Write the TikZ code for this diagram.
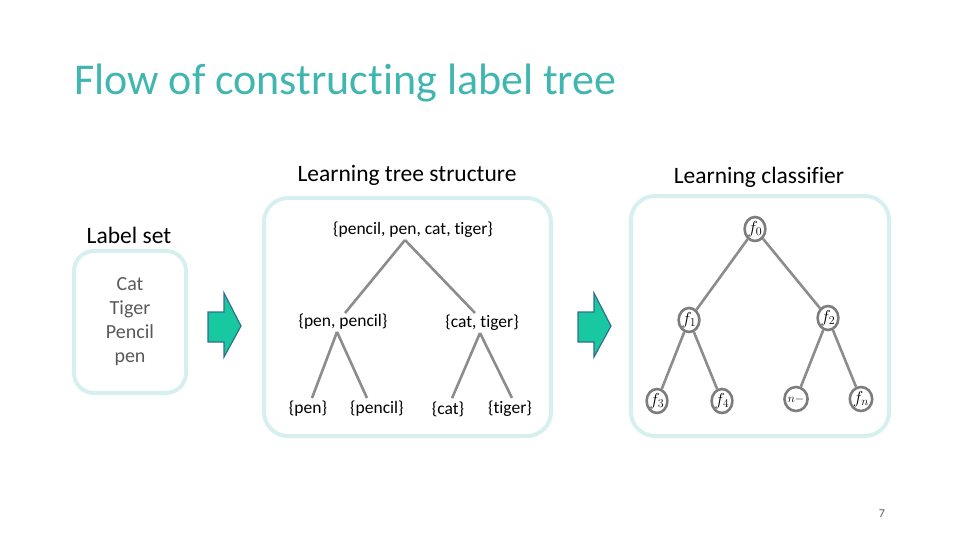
\documentclass[tikz,border=0pt]{standalone}
\usepackage{fontspec}
\setmainfont{Carlito}[Ligatures=NoCommon]
\usetikzlibrary{calc,shapes.geometric}
\definecolor{titlec}{RGB}{64,182,176}
\definecolor{boxc}{RGB}{214,240,240}
\definecolor{linec}{RGB}{140,140,140}
\definecolor{ellc}{RGB}{125,125,125}
\definecolor{bodyc}{RGB}{89,89,89}
\definecolor{arrfill}{RGB}{24,200,160}
\definecolor{arrdraw}{RGB}{50,110,140}
\tikzset{
  panel/.style={draw=boxc, line width=4pt, rounded corners=24pt},
  tlabel/.style={inner sep=1pt, font=\fontsize{17.5}{20}\selectfont},
  heading/.style={inner sep=0pt, font=\fontsize{23.5}{28}\selectfont},
  edge/.style={draw=linec, line width=2.6pt},
  clf/.style={ellipse, draw=ellc, line width=2.6pt, minimum width=17pt, minimum height=24pt, inner sep=0pt, font=\fontsize{18}{20}\selectfont},
  blockarrow/.style={fill=arrfill, draw=arrdraw, line width=1.2pt, line join=miter}
}
\begin{document}
\begin{tikzpicture}[x=1pt,y=-1pt]
\useasboundingbox (0,0) rectangle (960,540);
% title
\node[anchor=base west, inner sep=0pt, text=titlec, font=\fontsize{44}{48}\selectfont] (title) at (74,95) {Flow of constructing label tree};
% headings
\node[heading] (h1) at (407,175) {Learning tree structure};
\node[heading] (h2) at (759,177) {Learning classifier};
\node[heading] (h0) at (129,235) {Label set};
% label set panel
\draw[panel, rounded corners=20pt] (74,251) rectangle (186,393);
\node[align=center, text=bodyc, inner sep=0pt, font=\fontsize{20}{24}\selectfont] (labels) at (130,322) {Cat\\Tiger\\Pencil\\pen};
% arrows
\draw[blockarrow] (208,312) -- (224,312) -- (224,293) -- (241,326) -- (224,357) -- (224,342) -- (208,342) -- cycle;
\draw[blockarrow] (578,312) -- (594,312) -- (594,293) -- (611,326) -- (594,357) -- (594,342) -- (578,342) -- cycle;
% panels
\draw[panel] (264,198) rectangle (551,436);
\draw[panel] (631,196) rectangle (889,436);
% label tree
\node[tlabel] (root) at (413,230) {\{pencil, pen, cat, tiger\}};
\node[tlabel] (pp) at (343,322) {\{pen, pencil\}};
\node[tlabel] (ct) at (482,323) {\{cat, tiger\}};
\node[tlabel] (pen) at (308,409) {\{pen\}};
\node[tlabel] (pencil) at (377,409) {\{pencil\}};
\node[tlabel] (cat) at (448,409) {\{cat\}};
\node[tlabel] (tiger) at (510,409) {\{tiger\}};
\draw[edge] ($(root.south)+(-8,1)$) -- ($(pp.north)+(2,0)$);
\draw[edge] ($(root.south)+(-8,1)$) -- ($(ct.north)+(-7,-1)$);
\draw[edge] ($(pp.south)+(-6,1)$) -- ($(pen.north)+(4,-2)$);
\draw[edge] ($(pp.south)+(-6,1)$) -- ($(pencil.north)+(-10,-2)$);
\draw[edge] ($(ct.south)+(-2,1)$) -- ($(cat.north)+(4,-2)$);
\draw[edge] ($(ct.south)+(-2,1)$) -- ($(tiger.north)+(2,-2)$);
% classifier tree
\node[clf] (f0) at (755,229) {$f_0$};
\node[clf] (f1) at (689,320) {$f_1$};
\node[clf] (f2) at (828,318) {$f_2$};
\node[clf] (f3) at (657,401) {$f_3$};
\node[clf] (f4) at (722,401) {$f_4$};
\node[clf] (fx) at (796,399) {\raisebox{-4pt}{$\scriptstyle n-$}};
\node[clf] (fn) at (861,399) {$f_n$};
\draw[edge] (f0) -- (f1);
\draw[edge] (f0) -- (f2);
\draw[edge] (f1) -- (f3);
\draw[edge] (f1) -- (f4);
\draw[edge] (f2) -- (fx);
\draw[edge] (f2) -- (fn);
% page number
\node[text=bodyc, inner sep=0pt, font=\fontsize{12}{14}\selectfont] (page) at (882,514) {7};
\end{tikzpicture}
\end{document}
